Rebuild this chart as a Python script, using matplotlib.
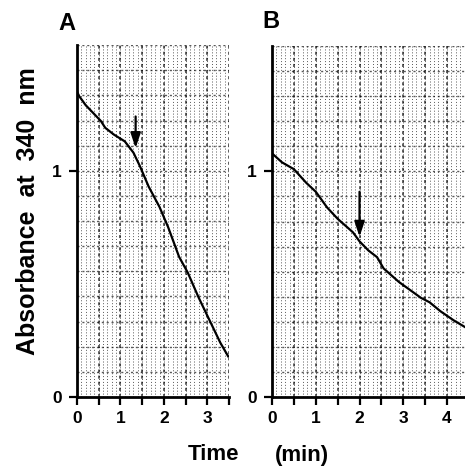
import numpy as np
import matplotlib
matplotlib.use("Agg")
import matplotlib.pyplot as plt

plt.rcParams['font.family'] = ['Liberation Sans', 'DejaVu Sans']
plt.rcParams['font.weight'] = 'bold'

# ---- data ----
time_a = [0, 0.05, 0.2, 0.4, 0.55, 0.65, 0.85, 1.1, 1.3, 1.45, 1.65, 1.9, 2.1, 2.35, 2.55, 2.8, 3.05, 3.3, 3.48]
abs_a = [1.35, 1.33, 1.29, 1.25, 1.22, 1.19, 1.16, 1.13, 1.08, 1.02, 0.93, 0.84, 0.75, 0.62, 0.55, 0.44, 0.34, 0.24, 0.18]
time_b = [0, 0.23, 0.5, 0.78, 1.0, 1.26, 1.5, 1.85, 2.0, 2.2, 2.4, 2.55, 2.9, 3.4, 3.6, 3.85, 4.15, 4.41]
abs_b = [1.08, 1.04, 1.01, 0.95, 0.91, 0.84, 0.79, 0.73, 0.69, 0.65, 0.62, 0.57, 0.51, 0.44, 0.42, 0.38, 0.34, 0.31]

arrow_a = (1.35, 1.24, 1.10)   # x, start y, tip y
arrow_b = (2.0, 0.91, 0.71)

xticks_a = [0, 1, 2, 3]
xticks_b = [0, 1, 2, 3, 4]
yticks = [0, 1]
panel_labels = ["A", "B"]
xmax_a, xmax_b, ymax = 3.5, 4.41, 1.556

W, H = 465, 467
fig = plt.figure(figsize=(W / 100, H / 100), dpi=100)
fig.patch.set_facecolor('white')


def px_axes(left, right, top, bottom):
    return fig.add_axes([left / W, 1 - bottom / H, (right - left) / W, (bottom - top) / H])


ax_a = px_axes(77, 229, 45, 397)
ax_b = px_axes(272, 465, 46, 397)


def style(ax, t, a, xmax, xticks, arrow):
    ax.set_xlim(0, xmax)
    ax.set_ylim(0, ymax)
    # chart paper grid
    for x in np.arange(0.1, xmax + 1e-6, 0.1):
        ax.axvline(x, color='0.35', lw=0.7, ls=(0, (1, 2)), zorder=1)
    for x in np.arange(0.5, xmax + 0.01, 0.5):
        ax.axvline(x, color='black', lw=1.1, ls=(0, (2, 2)), alpha=0.8, zorder=1)
    for y in np.arange(1 / 9, ymax + 1e-6, 1 / 9):
        ax.axhline(y, color='black', lw=1.0, ls=(0, (1.5, 2)), alpha=0.65, zorder=1)
    ax.plot(t, a, color='black', lw=1.6, zorder=3)
    x0, y0, y1 = arrow
    ax.annotate('', xy=(x0, y1), xytext=(x0, y0),
                arrowprops=dict(arrowstyle='-|>,head_length=0.9,head_width=0.3',
                                color='black', lw=1.6, shrinkA=0, shrinkB=0), zorder=4)
    for s in ['top', 'right']:
        ax.spines[s].set_visible(False)
    for s in ['left', 'bottom']:
        ax.spines[s].set_linewidth(2.0)
    ax.set_xticks(xticks)
    ax.set_xticks(np.arange(0.5, xmax + 0.01, 1.0), minor=True)
    ax.set_yticks(yticks)
    ax.tick_params(axis='both', which='both', direction='out', length=6, width=1.6,
                   labelsize=12.5, pad=5)
    ax.tick_params(axis='x', pad=4)
    for lab in ax.get_xticklabels() + ax.get_yticklabels():
        lab.set_fontweight('bold')


style(ax_a, time_a, abs_a, xmax_a, xticks_a, arrow_a)
style(ax_b, time_b, abs_b, xmax_b, xticks_b, arrow_b)

fig.text(67 / W, 1 - 23 / H, panel_labels[0], fontsize=17, fontweight='bold', ha='center', va='center')
fig.text(271 / W, 1 - 22 / H, panel_labels[1], fontsize=17, fontweight='bold', ha='center', va='center')
fig.text(28 / W, 1 - 211 / H, "Absorbance  at  340  nm", fontsize=18, fontweight='bold',
         rotation=90, ha='center', va='center')
fig.text(213 / W, 1 - 455 / H, "Time", fontsize=16, fontweight='bold', ha='center', va='center')
fig.text(302 / W, 1 - 455 / H, "(min)", fontsize=16, fontweight='bold', ha='center', va='center')

fig.savefig('out.png', dpi=100, facecolor='white')
